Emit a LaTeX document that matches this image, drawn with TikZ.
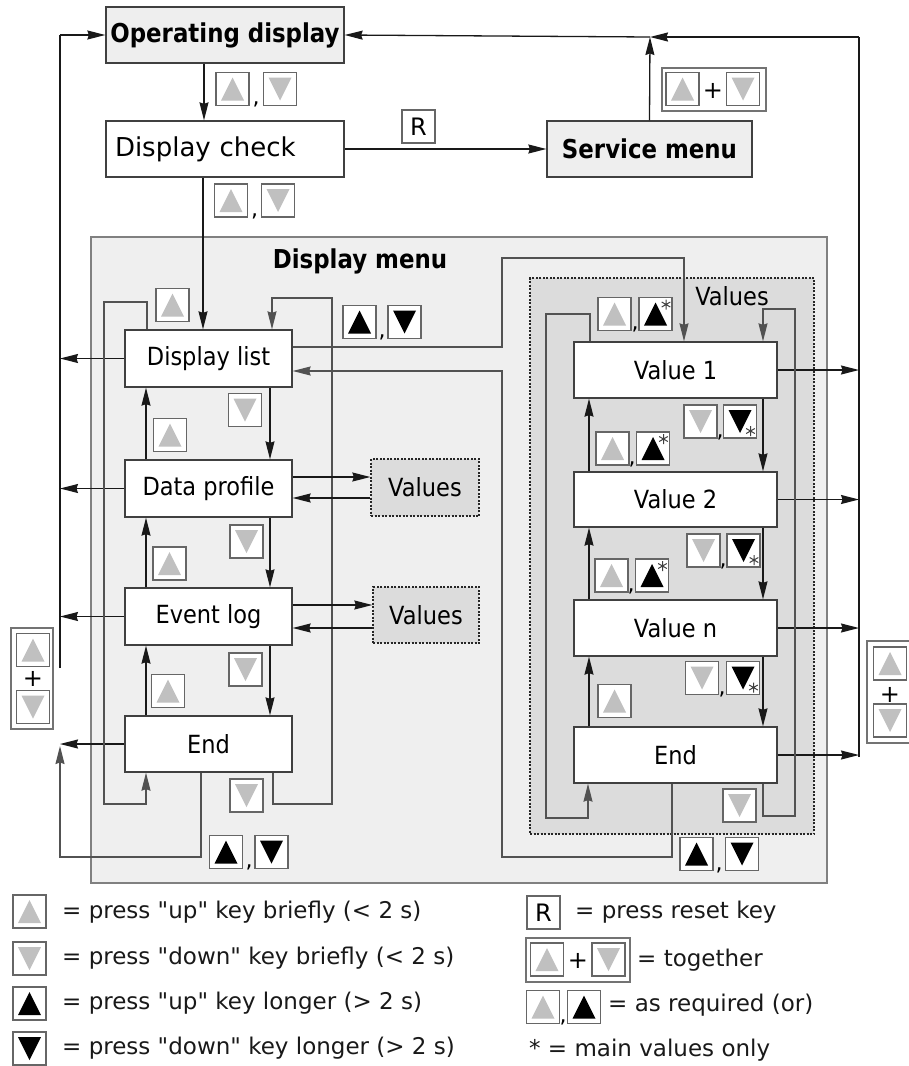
\documentclass[tikz,border=0pt]{standalone}
\usepackage{fontspec}
\setmainfont{DejaVu Sans}
\newfontfamily\nf[FakeStretch=0.9]{DejaVu Sans}
\newfontfamily\bnf[FakeStretch=0.88]{DejaVu Sans}
\newfontfamily\lf[Ligatures=TeXOff]{DejaVu Sans}
\usetikzlibrary{arrows.meta}
\definecolor{tg}{HTML}{C0C0C0}
\definecolor{bgl}{HTML}{EFEFEF}
\definecolor{bgv}{HTML}{DCDCDC}
\definecolor{bgb}{HTML}{EEEEEE}
\newcommand\nfs{\nf\fontsize{25}{30}\selectfont}
\newcommand\bfs{\bnf\bfseries\fontsize{26}{31}\selectfont}
\newcommand\dcs{\fontsize{26}{31}\selectfont}
\newcommand\lfs{\lf\fontsize{23}{28}\selectfont}
\tikzset{
 box/.style={draw=black!75, line width=1.3pt, fill=white, inner sep=0pt, font=\nfs, text=black},
 gbox/.style={box, fill=bgb, font=\bfs},
 lbox/.style={box, minimum width=167pt, minimum height=57pt},
 rbox/.style={box, minimum width=203pt, minimum height=56pt},
 vbox/.style={draw=black!85, dash pattern=on 2pt off 1.5pt, line width=1.3pt, fill=bgv, inner sep=0pt, font=\nfs},
 conn/.style={draw=black!90, line width=1.3pt},
 lp/.style={draw=black!68, line width=1.3pt},
 arr/.style={-{Stealth[length=18pt,width=9pt,inset=1.5pt]}},
 kbox/.style={draw=black!60, line width=1.1pt, fill=white, minimum width=33pt, minimum height=33pt, inner sep=0pt},
 upk/.style={kbox, path picture={\fill[#1] ([shift={(5pt,5pt)}]path picture bounding box.south west) -- ([shift={(-5pt,5pt)}]path picture bounding box.south east) -- ([shift={(0pt,-5pt)}]path picture bounding box.north) -- cycle;}},
 dnk/.style={kbox, path picture={\fill[#1] ([shift={(5pt,-5pt)}]path picture bounding box.north west) -- ([shift={(-5pt,-5pt)}]path picture bounding box.north east) -- ([shift={(0pt,5pt)}]path picture bounding box.south) -- cycle;}},
 upg/.style={upk=tg}, dng/.style={dnk=tg}, upb/.style={upk=black}, dnb/.style={dnk=black},
 ast/.style={draw=black!75, line width=1pt},
 upbs/.style={kbox, path picture={\fill[black] ([shift={(5pt,5pt)}]path picture bounding box.south west) -- ([shift={(-5pt,5pt)}]path picture bounding box.south east) -- ([shift={(0pt,-5pt)}]path picture bounding box.north) -- cycle;
   \draw[ast] ([shift={(-6pt,-7pt)}]path picture bounding box.north east) +(0pt,5pt) -- +(0pt,-5pt) +(4.3pt,2.5pt) -- +(-4.3pt,-2.5pt) +(4.3pt,-2.5pt) -- +(-4.3pt,2.5pt);}},
 dnbs/.style={kbox, path picture={\fill[black] ([shift={(5pt,-5pt)}]path picture bounding box.north west) -- ([shift={(-5pt,-5pt)}]path picture bounding box.north east) -- ([shift={(0pt,5pt)}]path picture bounding box.south) -- cycle;
   \draw[ast] ([shift={(-6pt,7pt)}]path picture bounding box.south east) +(0pt,5pt) -- +(0pt,-5pt) +(4.3pt,2.5pt) -- +(-4.3pt,-2.5pt) +(4.3pt,-2.5pt) -- +(-4.3pt,2.5pt);}},
 comma/.style={font=\fontsize{22}{22}\selectfont, inner sep=0pt},
 plusbox/.style={draw=black!55, line width=1.1pt, fill=white, inner sep=0pt},
 plus/.style={font=\fontsize{24}{24}\selectfont, inner sep=0pt},
 ltxt/.style={font=\lfs, anchor=west, inner sep=0pt, text=black!90},
}
\begin{document}
\begin{tikzpicture}[x=1pt,y=-1pt]
\useasboundingbox (0,0) rectangle (909,1066);
% containers
\node[draw=black!50, line width=1.5pt, fill=bgl, minimum width=736pt, minimum height=646pt] (dm) at (459,560) {};
\node[font=\bfs, inner sep=0pt] (dmt) at (360,261) {Display menu};
\node[vbox, minimum width=284pt, minimum height=556pt] (vc) at (672,556) {};
\node[font=\nfs, inner sep=0pt] (vct) at (732,296) {Values};
% top boxes
\node[gbox, minimum width=238pt, minimum height=56pt] (OD) at (225,35) {Operating display};
\node[box, font=\dcs, minimum width=238pt, minimum height=56pt, text width=220pt, align=left] (DC) at (225,149) {Display check};
\node[gbox, minimum width=205pt, minimum height=56pt] (SM) at (649.5,149) {Service menu};
\node[kbox, font=\fontsize{24}{24}\selectfont] (R) at (418.5,126.5) {R};
% left column
\node[lbox] (DL) at (208.5,358.5) {Display list};
\node[lbox] (DP) at (208.5,488.5) {Data profile};
\node[lbox] (EL) at (208.5,616.5) {Event log};
\node[lbox, minimum height=56pt] (E1) at (208.5,744) {End};
\node[vbox, minimum width=108pt, minimum height=57pt] (V1) at (425,487.5) {Values};
\node[vbox, minimum width=106pt, minimum height=56pt] (V2) at (426,615) {Values};
% right column
\node[rbox] (VA) at (675.5,370) {Value 1};
\node[rbox, minimum height=55pt] (VB) at (675.5,499.5) {Value 2};
\node[rbox] (VN) at (675.5,628) {Value n};
\node[rbox] (E2) at (675.5,755) {End};
% coordinates
\coordinate (lt) at (60,35);
\coordinate (lb) at (60,668);
\coordinate (rt) at (859,37);
\coordinate (rb) at (859,757);
\coordinate (jt) at (650,37);
% outer connectors
\draw[conn,arr] (204,0 |- OD.south) -- (204,0 |- DC.north);
\draw[conn,arr] (DC.east) -- (SM.west);
\draw[conn,arr] (203,0 |- DC.south) -- (203,0 |- DL.north);
\draw[conn,arr] (SM.north) -- (jt);
\draw[conn] (rb) -- (rt);
\draw[conn,arr] (rt) -- (jt);
\draw[conn,arr] (jt) -- (OD.east);
\draw[conn] (lb) -- (lt);
\draw[conn,arr] (lt) -- (OD.west);
\draw[conn,arr] (DL.west) -- (DL.west -| lt);
\draw[conn,arr] (DP.west) -- (DP.west -| lt);
\draw[conn,arr] (EL.west) -- (EL.west -| lt);
\draw[conn,arr] (E1.west) -- (E1.west -| lt);
\draw[lp,arr] (201,0 |- E1.south) -- (201,857) -- (60,857) -- (60,746);
\draw[conn,arr] (VA.east) -- (VA.east -| rt);
\draw[conn,arr] (VB.east) -- (VB.east -| rt);
\draw[conn,arr] (VN.east) -- (VN.east -| rt);
\draw[conn,arr] (E2.east) -- (E2.east -| rt);
% left loops
\draw[lp,arr] (147,0 |- DL.north) -- (147,302) -- (104,302) -- (104,804) -- (146,804) -- (146,0 |- E1.south);
\draw[lp,arr] (273,0 |- E1.south) -- (273,804) -- (332,804) -- (332,298) -- (272,298) -- (272,0 |- DL.north);
\draw[conn,arr] (146,0 |- DP.north) -- (146,0 |- DL.south);
\draw[conn,arr] (146,0 |- EL.north) -- (146,0 |- DP.south);
\draw[conn,arr] (146,0 |- E1.north) -- (146,0 |- EL.south);
\draw[conn,arr] (270,0 |- DL.south) -- (270,0 |- DP.north);
\draw[conn,arr] (270,0 |- DP.south) -- (270,0 |- EL.north);
\draw[conn,arr] (270,0 |- EL.south) -- (270,0 |- E1.north);
% values side
\draw[conn,arr] (DP.east |- 0,477) -- (V1.west |- 0,477);
\draw[conn,arr] (V1.west |- 0,498) -- (DP.east |- 0,498);
\draw[conn,arr] (EL.east |- 0,605) -- (V2.west |- 0,605);
\draw[conn,arr] (V2.west |- 0,628) -- (EL.east |- 0,628);
% between columns
\draw[lp,arr] (DL.east |- 0,347) -- (502,347) -- (502,258) -- (684,258) -- (684,0 |- VA.north);
\draw[lp,arr] (672,0 |- E2.south) -- (672,857) -- (502,857) -- (502,371) -- (DL.east |- 0,371);
% right loops
\draw[lp,arr] (590,0 |- VA.north) -- (590,314) -- (546,314) -- (546,818) -- (588,818) -- (588,0 |- E2.south);
\draw[lp,arr] (763,0 |- E2.south) -- (763,816) -- (795,816) -- (795,309) -- (763,309) -- (763,0 |- VA.north);
\draw[conn,arr] (589,0 |- VB.north) -- (589,0 |- VA.south);
\draw[conn,arr] (589,0 |- VN.north) -- (589,0 |- VB.south);
\draw[conn,arr] (589,0 |- E2.north) -- (589,0 |- VN.south);
\draw[conn,arr] (763,0 |- VA.south) -- (763,0 |- VB.north);
\draw[conn,arr] (763,0 |- VB.south) -- (763,0 |- VN.north);
\draw[conn,arr] (763,0 |- VN.south) -- (763,0 |- E2.north);
% key icons
\node[upg] (k1) at (232.5,89) {}; \node[dng] (k2) at (280,89) {}; \node[comma] (k3) at (256,104) {,};
\node[upg] (k4) at (231,200.5) {}; \node[dng] (k5) at (278,200.5) {}; \node[comma] (k6) at (254.5,216) {,};
\node[plusbox, minimum width=104pt, minimum height=43pt] (pt) at (714,89.5) {};
\node[upg] (pta) at (682.5,89) {}; \node[plus] (ptp) at (713,91) {+}; \node[dng] (ptb) at (743,89) {};
\node[upg] (k7) at (172.5,305) {};
\node[upb] (k8) at (359.5,322) {}; \node[dnb] (k9) at (404.5,322) {}; \node[comma] (k10) at (382,337) {,};
\node[dng] (k11) at (245,410) {};
\node[upg] (k12) at (170,435) {};
\node[dng] (k13) at (246.5,541.5) {};
\node[upg] (k14) at (169.5,563.5) {};
\node[dng] (k15) at (245.5,669.5) {};
\node[upg] (k16) at (168,691) {};
\node[dng] (k17) at (246.5,795.5) {};
\node[upb] (k18) at (226,852) {}; \node[dnb] (k19) at (271.5,852) {}; \node[comma] (k20) at (249,867) {,};
\node[plusbox, minimum width=42pt, minimum height=101pt] (pl) at (32,678.5) {};
\node[upg] (pla) at (33,650) {}; \node[plus] (plp) at (33,679) {+}; \node[dng] (plb) at (33,707) {};
% right icons
\node[upg] (m1) at (614.5,314) {}; \node[upbs] (m2) at (655.5,314) {}; \node[comma] (m3) at (635,329) {,};
\node[dng] (m4) at (700.5,421.5) {}; \node[dnbs] (m5) at (740,421.5) {}; \node[comma] (m6) at (720,437) {,};
\node[upg] (m7) at (612.5,448.5) {}; \node[upbs] (m8) at (653,448.5) {}; \node[comma] (m9) at (632,464) {,};
\node[dng] (m10) at (703.5,550.5) {}; \node[dnbs] (m11) at (743.5,550.5) {}; \node[comma] (m12) at (723,566) {,};
\node[upg] (m13) at (611.5,575.5) {}; \node[upbs] (m14) at (652,575.5) {}; \node[comma] (m15) at (631,591) {,};
\node[upg] (m16) at (614.5,701) {};
\node[dng] (m17) at (702,678) {}; \node[dnbs] (m18) at (743,678) {}; \node[comma] (m19) at (722,694) {,};
\node[dng] (m20) at (739.5,805.5) {};
\node[upb] (m21) at (696.5,854) {}; \node[dnb] (m22) at (742,854) {}; \node[comma] (m23) at (719,870) {,};
\node[plusbox, minimum width=45pt, minimum height=102pt] (pr) at (889.5,692) {};
\node[upg] (pra) at (890,663.5) {}; \node[plus] (prp) at (890,695) {+}; \node[dng] (prb) at (890,720.5) {};
% legend
\node[upg] (l1) at (29.5,911.5) {}; \node[ltxt] (l1t) at (62,912) {= press "up" key briefly (< 2 s)};
\node[dng] (l2) at (29.5,958.5) {}; \node[ltxt] (l2t) at (62,958) {= press "down" key briefly (< 2 s)};
\node[upb] (l3) at (29.5,1003.5) {}; \node[ltxt] (l3t) at (62,1003) {= press "up" key longer (> 2 s)};
\node[dnb] (l4) at (29.5,1048.5) {}; \node[ltxt] (l4t) at (62,1048) {= press "down" key longer (> 2 s)};
\node[kbox, font=\fontsize{24}{24}\selectfont] (l5) at (543.5,912.5) {R}; \node[ltxt] (l5t) at (575,912) {= press reset key};
\node[plusbox, minimum width=104pt, minimum height=44pt] (l6) at (578,960) {};
\node[upg] (l6a) at (547,959.5) {}; \node[plus] (l6p) at (578,961) {+}; \node[dng] (l6b) at (608.5,959.5) {};
\node[ltxt] (l6t) at (637,960) {= together};
\node[upg] (l7a) at (543,1007) {}; \node[upb] (l7b) at (584,1007) {}; \node[comma] (l7c) at (563,1022) {,};
\node[ltxt] (l7t) at (608,1005) {= as required (or)};
\node[ltxt] (l8t) at (529,1050) {* = main values only};
\end{tikzpicture}
\end{document}
